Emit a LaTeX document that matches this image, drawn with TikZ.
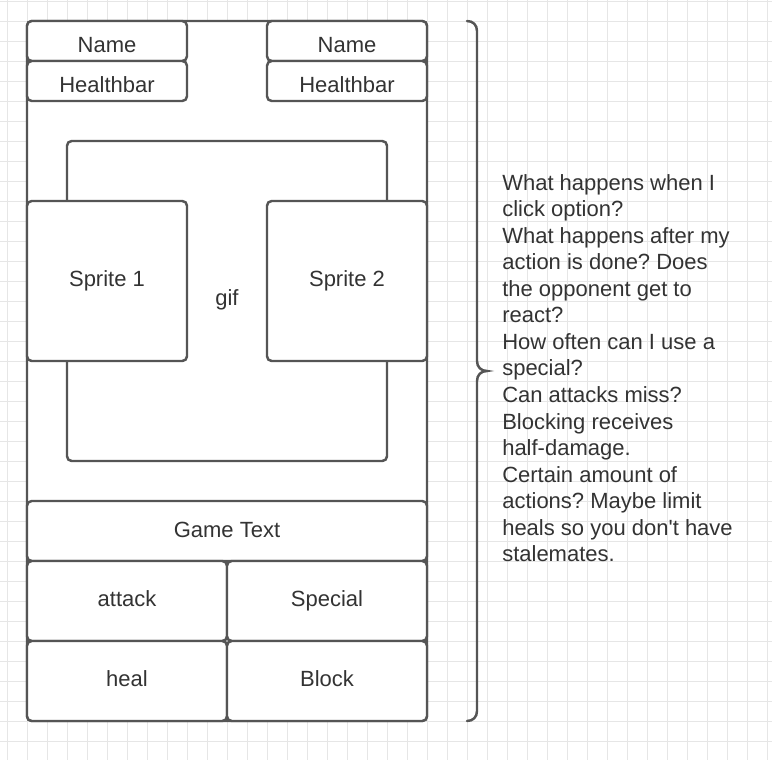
\documentclass[tikz,border=0pt]{standalone}
\usepackage{fontspec}
\setmainfont{Liberation Sans}[Ligatures=TeXOff]
\frenchspacing
\definecolor{strk}{HTML}{555555}
\definecolor{txt}{HTML}{333333}
\definecolor{gridc}{HTML}{E6E6E6}
\begin{document}
\begin{tikzpicture}[x=0.75pt,y=-0.75pt,
  box/.style={draw=strk,line width=1.85pt,fill=white,rounded corners=3.5pt},
  lbl/.style={anchor=base,inner sep=0pt,text=txt,font=\fontsize{16.5pt}{20pt}\selectfont},
  note/.style={anchor=base west,inner sep=0pt,text=txt,font=\fontsize{16.5pt}{20pt}\selectfont}]
\useasboundingbox (0,0) rectangle (772,760);
\fill[white] (0,0) rectangle (772,760);
% grid
\foreach \x in {7,27,...,767} \draw[gridc,line width=0.75pt] (\x,0) -- (\x,760);
\foreach \y in {1,21,...,741} \draw[gridc,line width=0.75pt] (0,\y) -- (772,\y);
% outer frame
\draw[box] (27,21) rectangle (427,721);
\path (27,21) coordinate (frameTL) (427,721) coordinate (frameBR);
% name and health bars
\draw[box] (27,21) rectangle (187,61);
\draw[box] (267,21) rectangle (427,61);
\draw[box] (27,61) rectangle (187,101);
\draw[box] (267,61) rectangle (427,101);
\node[lbl] (name1) at (107,52) {Name};
\node[lbl] (name2) at (347,52) {Name};
\node[lbl] (hb1) at (107,92) {Healthbar};
\node[lbl] (hb2) at (347,92) {Healthbar};
% gif area
\draw[box] (67,141) rectangle (387,461);
\node[lbl] (gif) at (227,305) {gif};
% sprites
\draw[box] (27,201) rectangle (187,361);
\draw[box] (267,201) rectangle (427,361);
\node[lbl] (sp1) at (107,286) {Sprite 1};
\node[lbl] (sp2) at (347,286) {Sprite 2};
% game text
\draw[box] (27,501) rectangle (427,561);
\node[lbl] (gt) at (227,537) {Game Text};
% buttons
\draw[box] (27,561) rectangle (227,641);
\draw[box] (227,561) rectangle (427,641);
\draw[box] (27,641) rectangle (227,721);
\draw[box] (227,641) rectangle (427,721);
\node[lbl] (atk) at (127,606) {attack};
\node[lbl] (spc) at (327,606) {Special};
\node[lbl] (heal) at (127,686) {heal};
\node[lbl] (blk) at (327,686) {Block};
% brace
\coordinate (bTop) at (467,21);
\coordinate (bTip) at (487,371);
\coordinate (bBot) at (467,721);
\draw[strk,line width=1.85pt,line cap=round]
  (bTop) .. controls (473,21) and (477,25) .. (477,31) -- (477,361)
  .. controls (477,367) and (481,371) .. (bTip)
  .. controls (481,371) and (477,375) .. (477,381) -- (477,711)
  .. controls (477,717) and (473,721) .. (bBot);
% notes
\foreach [count=\i from 0] \t in {
  What happens when I,
  click option?,
  What happens after my,
  action is done? Does,
  the opponent get to,
  react?,
  How often can I use a,
  special?,
  Can attacks miss?,
  Blocking receives,
  half-damage.,
  Certain amount of,
  actions? Maybe limit,
  heals so you don't have,
  stalemates.}
  \node[note] (note\i) at (502,190+26.57*\i) {\t};
\end{tikzpicture}
\end{document}
